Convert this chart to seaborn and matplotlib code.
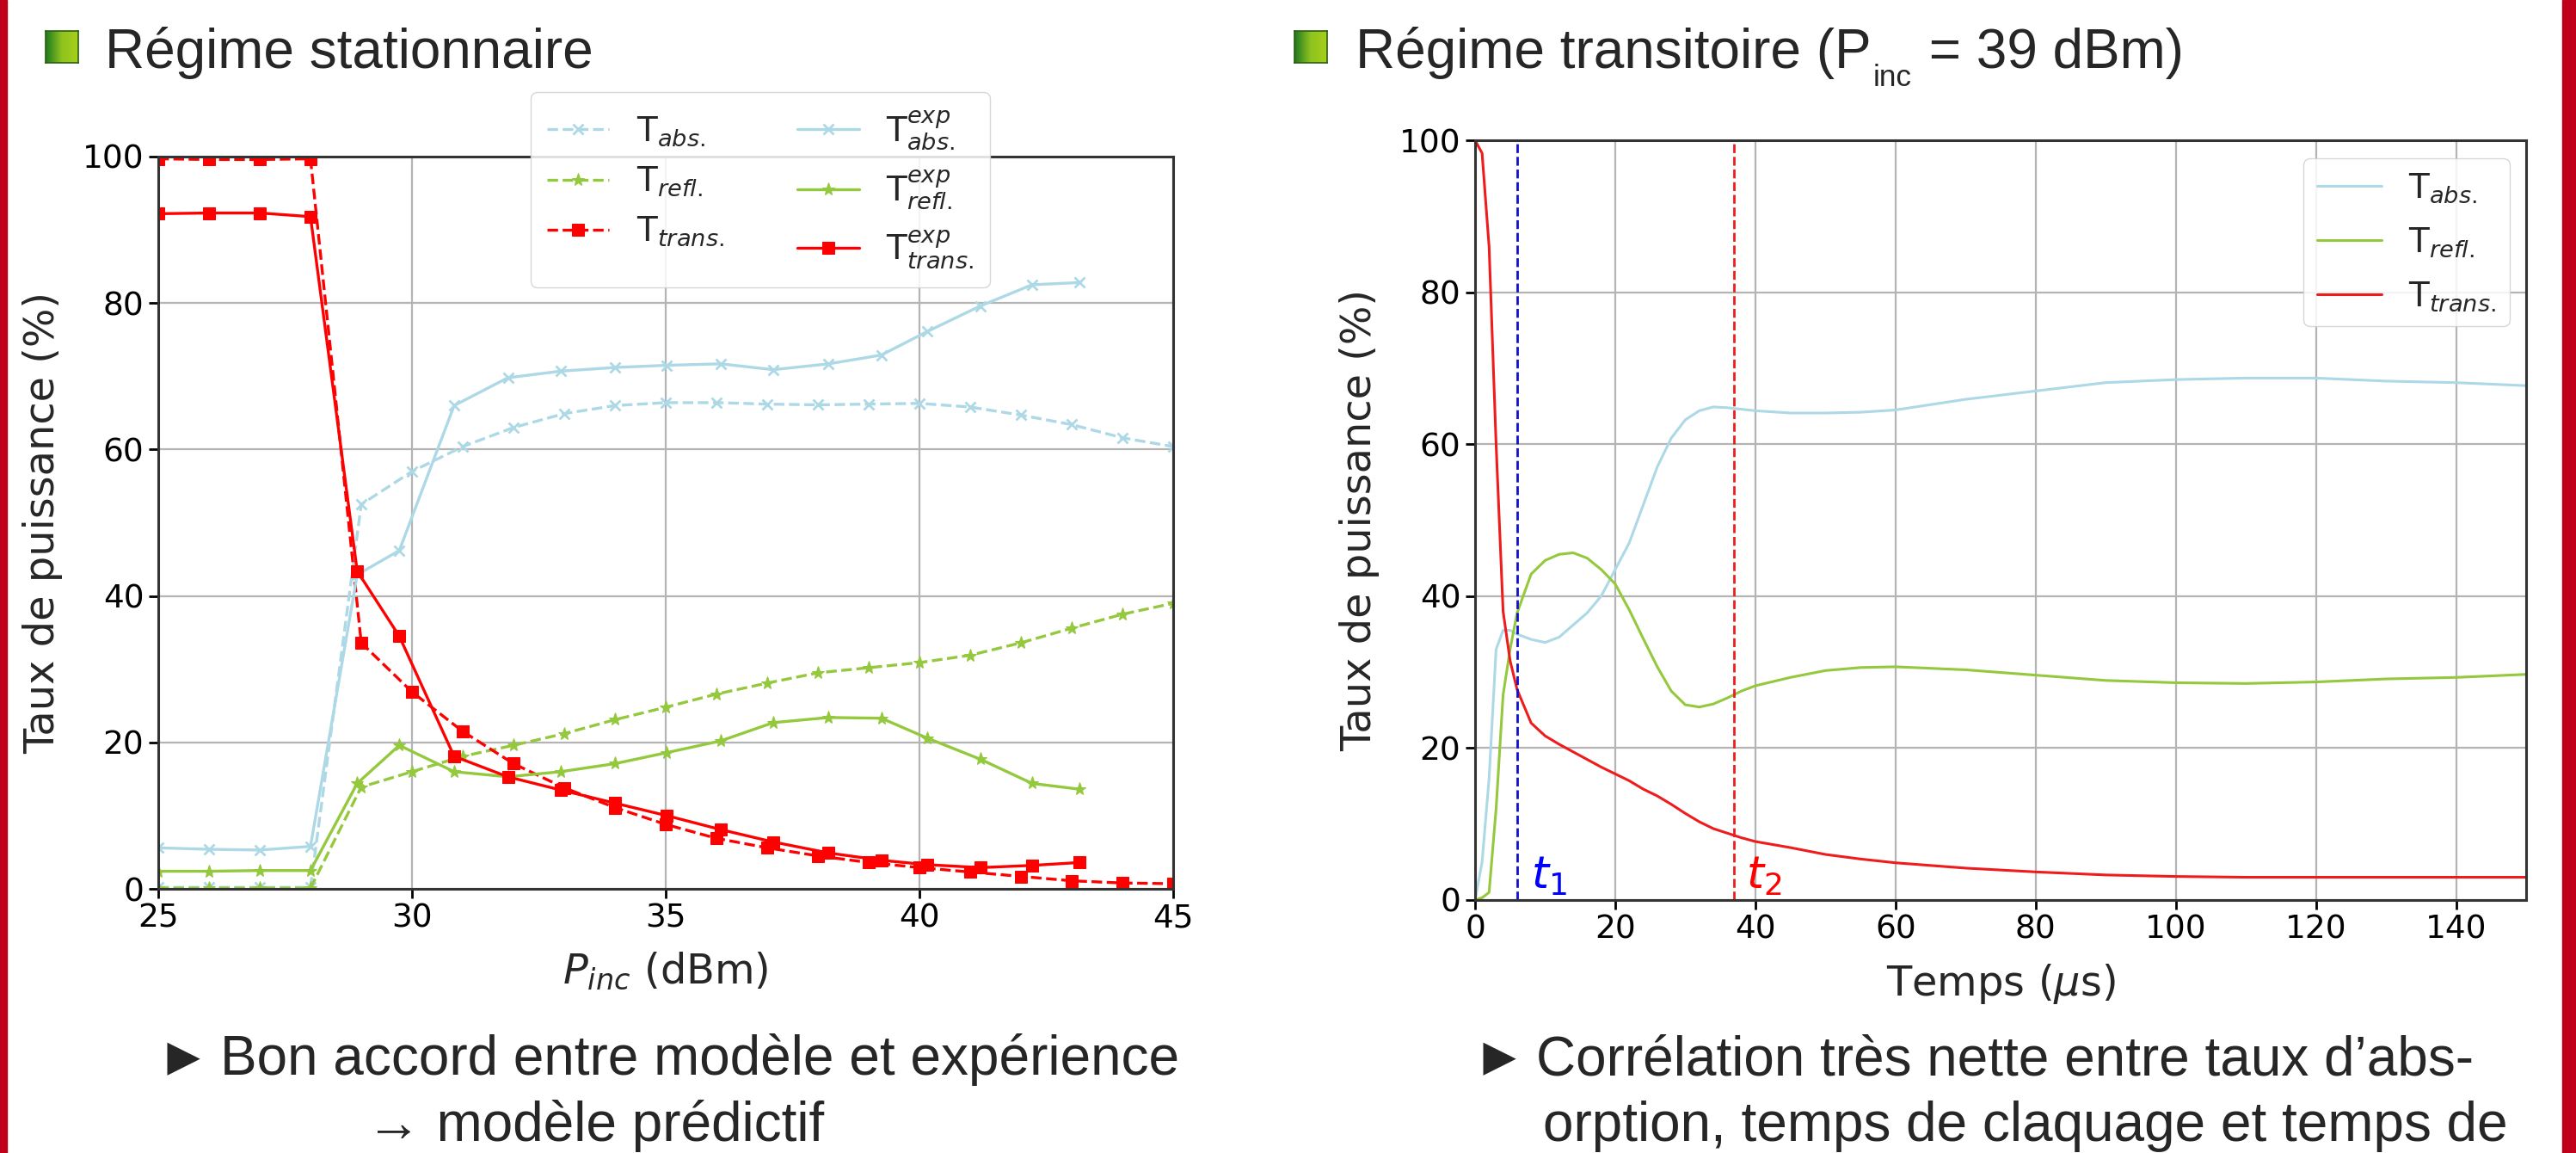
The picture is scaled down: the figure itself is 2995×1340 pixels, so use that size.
import numpy as np
import pandas as pd
import matplotlib
matplotlib.use("Agg")
import matplotlib.pyplot as plt
import seaborn as sns
from matplotlib.patches import Rectangle
from matplotlib.colors import LinearSegmentedColormap

# ---------------- data: steady state (left) ----------------
p_model = [25, 26, 27, 28, 29, 30, 31, 32, 33, 34, 35, 36, 37, 38, 39, 40, 41, 42, 43, 44, 45]
abs_model = [0.2, 0.2, 0.2, 0.2, 52.5, 57.0, 60.4, 63.0, 64.9, 66.0, 66.4, 66.4, 66.2, 66.1, 66.2, 66.3, 65.8, 64.7, 63.4, 61.6, 60.4]
refl_model = [0.1, 0.1, 0.1, 0.1, 13.9, 16.0, 18.1, 19.6, 21.2, 23.1, 24.8, 26.6, 28.1, 29.5, 30.2, 30.9, 31.9, 33.6, 35.6, 37.5, 39.0]
trans_model = [99.7, 99.6, 99.6, 99.7, 33.6, 26.9, 21.5, 17.1, 13.8, 11.1, 8.8, 6.9, 5.6, 4.5, 3.6, 2.9, 2.3, 1.7, 1.1, 0.8, 0.7]

p_exp = [25, 26, 27, 28, 28.92, 29.75, 30.83, 31.89, 32.93, 34.0, 35.02, 36.08, 37.12, 38.21, 39.25, 40.15, 41.2, 42.22, 43.16]
abs_exp = [5.6, 5.4, 5.3, 5.8, 42.9, 46.2, 66.0, 69.8, 70.7, 71.2, 71.5, 71.7, 70.9, 71.7, 72.9, 76.1, 79.6, 82.5, 82.8]
refl_exp = [2.4, 2.4, 2.5, 2.5, 14.4, 19.6, 16.0, 15.3, 16.0, 17.1, 18.6, 20.2, 22.7, 23.4, 23.3, 20.6, 17.7, 14.4, 13.6]
trans_exp = [92.2, 92.3, 92.3, 91.8, 43.4, 34.5, 18.1, 15.3, 13.5, 11.7, 10.0, 8.1, 6.4, 4.9, 3.9, 3.3, 2.9, 3.2, 3.6]

# ---------------- data: transient (right) ----------------
times = [0, 1, 2, 3, 4, 5, 6, 8, 10, 12, 14, 16, 18, 20, 22, 24, 26, 28, 30, 32, 34, 36, 38, 40,
         45, 50, 55, 60, 70, 80, 90, 100, 110, 120, 130, 140, 150]
abs_t = [0, 5, 16, 33, 35.5, 35.5, 35.0, 34.3, 33.9, 34.6, 36.2, 37.8, 40.0, 43.5, 47.0, 52.0, 57.0, 60.8, 63.2, 64.4,
         64.9, 64.8, 64.6, 64.4, 64.1, 64.1, 64.2, 64.5, 65.9, 67.0, 68.1, 68.5, 68.7, 68.7, 68.3, 68.1, 67.7]
refl_t = [0, 0.3, 1.0, 12.0, 27.0, 33.0, 37.8, 42.9, 44.7, 45.5, 45.7, 45.0, 43.5, 41.6, 38.2, 34.4, 30.7, 27.5, 25.7, 25.4,
          25.8, 26.6, 27.5, 28.2, 29.3, 30.2, 30.6, 30.7, 30.3, 29.6, 28.9, 28.6, 28.5, 28.7, 29.1, 29.3, 29.7]
trans_t = [100, 98.3, 86.0, 60.0, 38.0, 31.5, 27.7, 23.3, 21.6, 20.5, 19.5, 18.5, 17.5, 16.6, 15.7, 14.6, 13.7, 12.6, 11.4, 10.3,
           9.4, 8.8, 8.2, 7.7, 6.9, 6.0, 5.4, 4.9, 4.2, 3.7, 3.3, 3.1, 3.0, 3.0, 3.0, 3.0, 3.0]
t1_time = 6.0
t2_time = 37.0

left_xticks = [25, 30, 35, 40, 45]
right_xticks = [0, 20, 40, 60, 80, 100, 120, 140]
yticks = [0, 20, 40, 60, 80, 100]

# ---------------- style ----------------
sns.set_style("ticks")
plt.rcParams["font.family"] = ["DejaVu Sans"]
plt.rcParams["mathtext.fontset"] = "dejavusans"

W, H = 2995, 1340
fig = plt.figure(figsize=(W / 100, H / 100), dpi=100)
fig.patch.set_facecolor("white")

C_ABS = "#add8e6"
C_REFL = "#94c83d"
C_TRANS = "#ff0000"
SANS = ["Liberation Sans", "DejaVu Sans"]
LABEL_FS = 34.5

ax1 = fig.add_axes([184 / W, 1 - 1033 / H, 1180 / W, 851 / H])
ax2 = fig.add_axes([1715 / W, 1 - 1046 / H, 1222 / W, 883 / H])

def style_axes(ax):
    ax.grid(True, color="#b4b4b4", linewidth=1.6)
    ax.set_axisbelow(True)
    for s in ax.spines.values():
        s.set_visible(True)
        s.set_color("#333333")
        s.set_linewidth(2.2)
    ax.tick_params(labelsize=27, length=8, width=2, direction="out", colors="black", pad=4)

# ---------------- left plot ----------------
lw = 2.4
sns.lineplot(x=p_model, y=abs_model, ax=ax1, color=C_ABS, linestyle="--", linewidth=lw, marker="x",
             markersize=9, markeredgecolor=C_ABS, markeredgewidth=2, label=r"T$_{abs.}$")
sns.lineplot(x=p_model, y=refl_model, ax=ax1, color=C_REFL, linestyle="--", linewidth=lw, marker="*",
             markersize=11, markeredgecolor=C_REFL, markerfacecolor=C_REFL, label=r"T$_{refl.}$")
sns.lineplot(x=p_model, y=trans_model, ax=ax1, color=C_TRANS, linestyle="--", linewidth=lw, marker="s",
             markersize=10, markeredgecolor=C_TRANS, markerfacecolor=C_TRANS, label=r"T$_{trans.}$")
sns.lineplot(x=p_exp, y=abs_exp, ax=ax1, color=C_ABS, linestyle="-", linewidth=lw, marker="x",
             markersize=9, markeredgecolor=C_ABS, markeredgewidth=2, label=r"T$^{exp}_{abs.}$")
sns.lineplot(x=p_exp, y=refl_exp, ax=ax1, color=C_REFL, linestyle="-", linewidth=lw, marker="*",
             markersize=11, markeredgecolor=C_REFL, markerfacecolor=C_REFL, label=r"T$^{exp}_{refl.}$")
sns.lineplot(x=p_exp, y=trans_exp, ax=ax1, color=C_TRANS, linestyle="-", linewidth=lw, marker="s",
             markersize=10, markeredgecolor=C_TRANS, markerfacecolor=C_TRANS, label=r"T$^{exp}_{trans.}$")

ax1.set_xlim(25, 45)
ax1.set_ylim(0, 100)
ax1.set_xticks(left_xticks)
ax1.set_yticks(yticks)
style_axes(ax1)
ax1.set_xlabel(r"$P_{inc}$ (dBm)", fontsize=LABEL_FS, labelpad=14)
ax1.set_ylabel("Taux de puissance (%)", fontsize=LABEL_FS, labelpad=16)
leg1 = ax1.legend(loc="upper left", bbox_to_anchor=(617 / W, 1 - 107 / H), bbox_transform=fig.transFigure,
                  ncol=2, fontsize=28, framealpha=0.85, fancybox=True, handlelength=1.85,
                  columnspacing=2.2, labelspacing=0.5, borderpad=0.5, handletextpad=0.8,
                  borderaxespad=0)
leg1.get_frame().set_edgecolor("#d0d0d0")

# ---------------- right plot ----------------
lw2 = 2.2
sns.lineplot(x=times, y=abs_t, ax=ax2, color=C_ABS, linewidth=lw2, label=r"T$_{abs.}$")
sns.lineplot(x=times, y=refl_t, ax=ax2, color=C_REFL, linewidth=lw2, label=r"T$_{refl.}$")
sns.lineplot(x=times, y=trans_t, ax=ax2, color="#ee1c1c", linewidth=lw2, label=r"T$_{trans.}$")
ax2.axvline(t1_time, color="#1010cc", linestyle="--", linewidth=2)
ax2.axvline(t2_time, color="#ee1c1c", linestyle="--", linewidth=2)
ax2.text(t1_time + 2.0, 1.5, r"$\mathit{t_1}$", color="blue", fontsize=37, va="baseline")
ax2.text(t2_time + 1.7, 1.5, r"$\mathit{t_2}$", color="red", fontsize=37, va="baseline")
ax2.set_xlim(0, 150)
ax2.set_ylim(0, 100)
ax2.set_xticks(right_xticks)
ax2.set_yticks(yticks)
style_axes(ax2)
ax2.set_xlabel(r"Temps ($\mu$s)", fontsize=LABEL_FS, labelpad=14)
ax2.set_ylabel("Taux de puissance (%)", fontsize=LABEL_FS, labelpad=16)
leg2 = ax2.legend(loc="upper left", bbox_to_anchor=(2678 / W, 1 - 184 / H), bbox_transform=fig.transFigure,
                  fontsize=28, framealpha=0.85, fancybox=True, handlelength=1.95,
                  labelspacing=0.62, borderpad=0.4, handletextpad=0.8, borderaxespad=0)
leg2.get_frame().set_edgecolor("#d0d0d0")

# ---------------- slide decorations ----------------
fig.patches.append(Rectangle((0, 0), 8 / W, 1, transform=fig.transFigure, color="#c0001a", zorder=10))
fig.patches.append(Rectangle((2979 / W, 0), 16 / W, 1, transform=fig.transFigure, color="#c0001a", zorder=10))

grad = LinearSegmentedColormap.from_list("g", ["#1f7a1f", "#8fc31f", "#a6cf1a"])
for xl in (53, 1505):
    bax = fig.add_axes([xl / W, 1 - 73 / H, 38 / W, 37 / H])
    bax.imshow(np.linspace(0, 1, 64).reshape(1, -1), cmap=grad, aspect="auto")
    bax.set_xticks([])
    bax.set_yticks([])
    for s in bax.spines.values():
        s.set_color("#2b5d12")
        s.set_linewidth(1.2)

TS = 46
fig.text(122 / W, 1 - 79 / H, "Régime stationnaire", fontsize=TS, family=SANS, va="baseline")
t_r = fig.text(1576 / W, 1 - 79 / H, "Régime transitoire (P", fontsize=TS, family=SANS, va="baseline")
t_sub = fig.text(0, 0, "inc", fontsize=TS * 0.55, family=SANS, va="baseline")
fig.canvas.draw()
r = fig.canvas.get_renderer()
bb = t_r.get_window_extent(r)
t_sub.set_position(((bb.x1 + 2) / W, (H - 100) / H))
bb2 = t_sub.get_window_extent(r)
fig.text((bb2.x1 + 2) / W, 1 - 79 / H, " = 39 dBm)", fontsize=TS, family=SANS, va="baseline")

fig.text(182 / W, 1 - 1249 / H, "\u25BA", fontsize=TS, family=SANS, va="baseline")
fig.text(256 / W, 1 - 1249 / H, "Bon accord entre modèle et expérience", fontsize=TS, family=SANS, va="baseline")
fig.text(426 / W, 1 - 1326 / H, "\u2192 modèle prédictif", fontsize=TS, family=SANS, va="baseline")
fig.text(1712 / W, 1 - 1249 / H, "\u25BA", fontsize=TS, family=SANS, va="baseline")
fig.text(1786 / W, 1 - 1249 / H, "Corrélation très nette entre taux d\u2019abs-", fontsize=TS, family=SANS, va="baseline")
fig.text(1794 / W, 1 - 1326 / H, "orption, temps de claquage et temps de", fontsize=TS, family=SANS, va="baseline")

fig.savefig("out.png", dpi=100, facecolor="white")
